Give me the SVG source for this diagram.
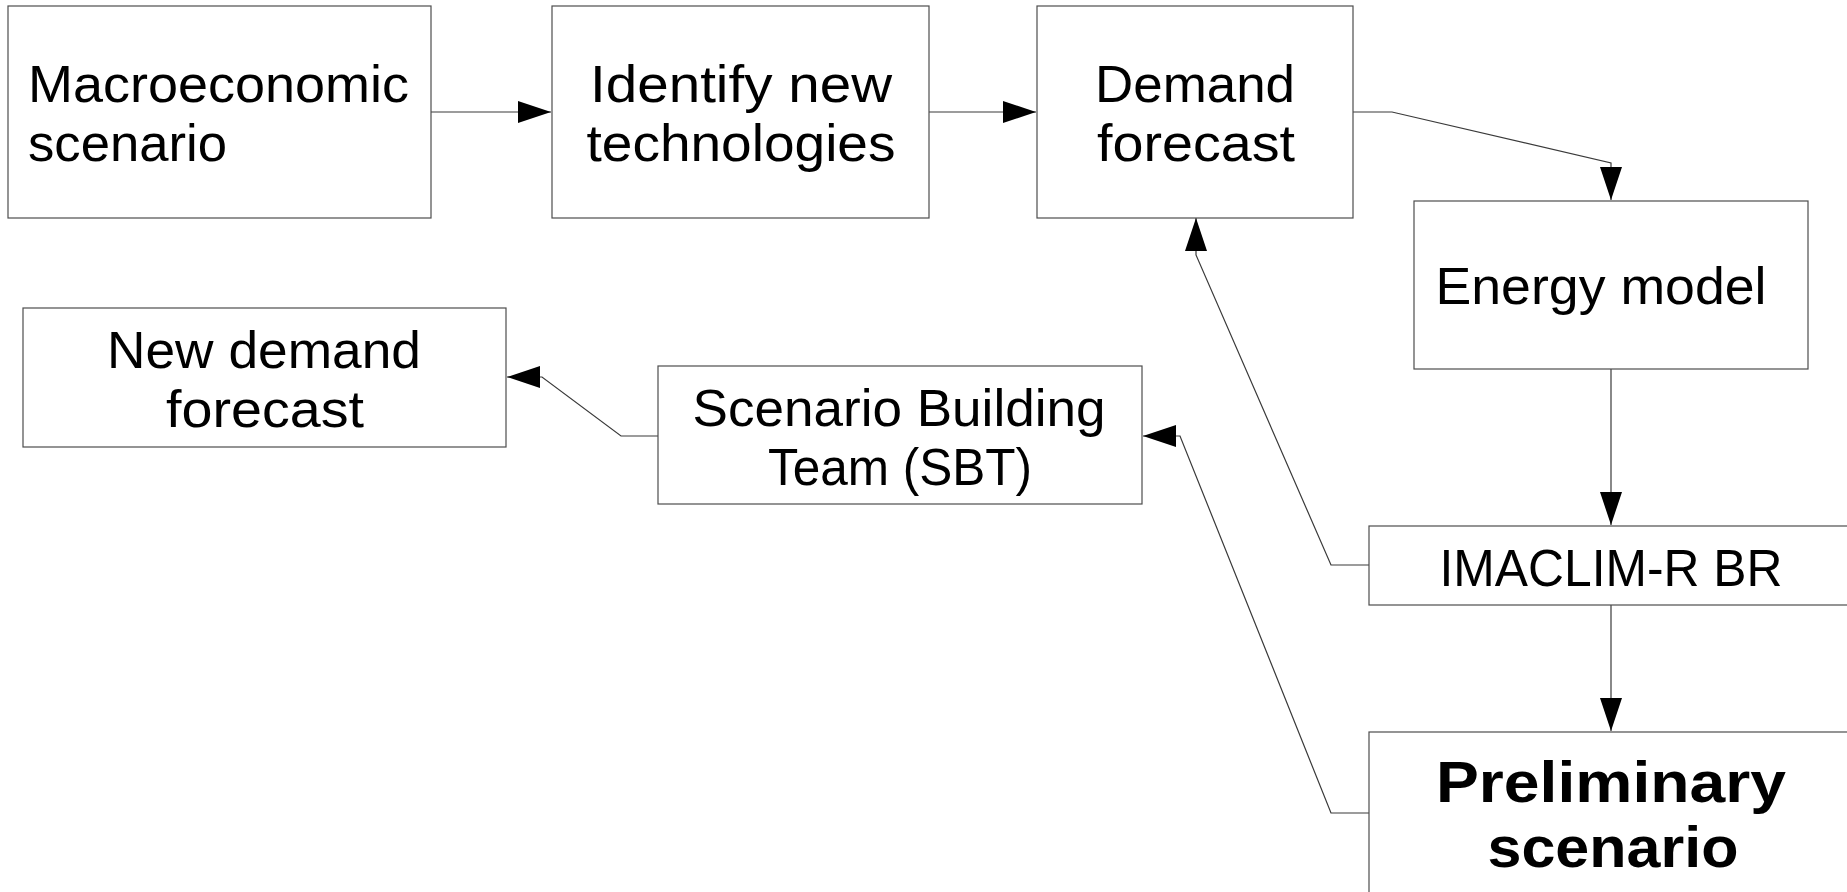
<svg xmlns="http://www.w3.org/2000/svg" width="1847" height="892" viewBox="0 0 1847 892">
  <style>
    .box { fill: #ffffff; stroke: #4d4d4d; stroke-width: 1.2; }
    .lbl { font-family: "Liberation Sans", Arial, sans-serif; font-size: 52px; fill: #000000; text-anchor: middle; }
    .bold { font-weight: bold; font-size: 58px; }
    .conn { fill: none; stroke: #3a3a3a; stroke-width: 1.2; marker-end: url(#arrow); }
  </style>
  <defs>
    <marker id="arrow" markerUnits="userSpaceOnUse" markerWidth="34" markerHeight="24" viewBox="0 0 34 24" refX="33" refY="12" orient="auto">
      <path d="M0,1 L33,12 L0,23 Z" fill="#000000"/>
    </marker>
  </defs>

  <rect width="1847" height="892" fill="#ffffff"/>

  <!-- connectors -->
  <g id="connectors">
    <path class="conn" d="M431,112 L551,112"/>
    <path class="conn" d="M929,112 L1036,112"/>
    <path class="conn" d="M1353,112 L1392,112 L1611,163 L1611,200"/>
    <path class="conn" d="M1611,369 L1611,525"/>
    <path class="conn" d="M1611,605 L1611,731"/>
    <path class="conn" d="M1369,565 L1331,565 L1196,255 L1196,218"/>
    <path class="conn" d="M1369,813 L1331,813 L1180,436 L1143,436"/>
    <path class="conn" d="M658,436 L621,436 L542,377 L507,377"/>
  </g>

  <!-- nodes -->
  <g id="macroeconomic-scenario">
    <rect class="box" x="8" y="6" width="423" height="212"/>
    <text class="lbl" style="text-anchor:start"><tspan x="28" y="102" textLength="381" lengthAdjust="spacingAndGlyphs">Macroeconomic</tspan><tspan x="28" y="161" textLength="199" lengthAdjust="spacingAndGlyphs">scenario</tspan></text>
  </g>

  <g id="identify-new-technologies">
    <rect class="box" x="552" y="6" width="377" height="212"/>
    <text class="lbl"><tspan x="741" y="102" textLength="302" lengthAdjust="spacingAndGlyphs">Identify new</tspan><tspan x="741" y="161" textLength="309" lengthAdjust="spacingAndGlyphs">technologies</tspan></text>
  </g>

  <g id="demand-forecast">
    <rect class="box" x="1037" y="6" width="316" height="212"/>
    <text class="lbl"><tspan x="1195" y="102" textLength="200" lengthAdjust="spacingAndGlyphs">Demand</tspan><tspan x="1196" y="161" textLength="198" lengthAdjust="spacingAndGlyphs">forecast</tspan></text>
  </g>

  <g id="energy-model">
    <rect class="box" x="1414" y="201" width="394" height="168"/>
    <text class="lbl" x="1601" y="304" textLength="331" lengthAdjust="spacingAndGlyphs">Energy model</text>
  </g>

  <g id="imaclim-r-br">
    <rect class="box" x="1369" y="526" width="484" height="79"/>
    <text class="lbl" x="1611" y="586" textLength="343" lengthAdjust="spacingAndGlyphs">IMACLIM-R BR</text>
  </g>

  <g id="preliminary-scenario">
    <rect class="box" x="1369" y="732" width="484" height="162"/>
    <text class="lbl bold"><tspan x="1611" y="802" textLength="350" lengthAdjust="spacingAndGlyphs">Preliminary</tspan><tspan x="1613" y="867" textLength="251" lengthAdjust="spacingAndGlyphs">scenario</tspan></text>
  </g>

  <g id="scenario-building-team">
    <rect class="box" x="658" y="366" width="484" height="138"/>
    <text class="lbl"><tspan x="899" y="426" textLength="413" lengthAdjust="spacingAndGlyphs">Scenario Building</tspan><tspan x="900" y="485" textLength="264" lengthAdjust="spacingAndGlyphs">Team (SBT)</tspan></text>
  </g>

  <g id="new-demand-forecast">
    <rect class="box" x="23" y="308" width="483" height="139"/>
    <text class="lbl"><tspan x="264" y="368" textLength="314" lengthAdjust="spacingAndGlyphs">New demand</tspan><tspan x="265" y="427" textLength="198" lengthAdjust="spacingAndGlyphs">forecast</tspan></text>
  </g>
</svg>
